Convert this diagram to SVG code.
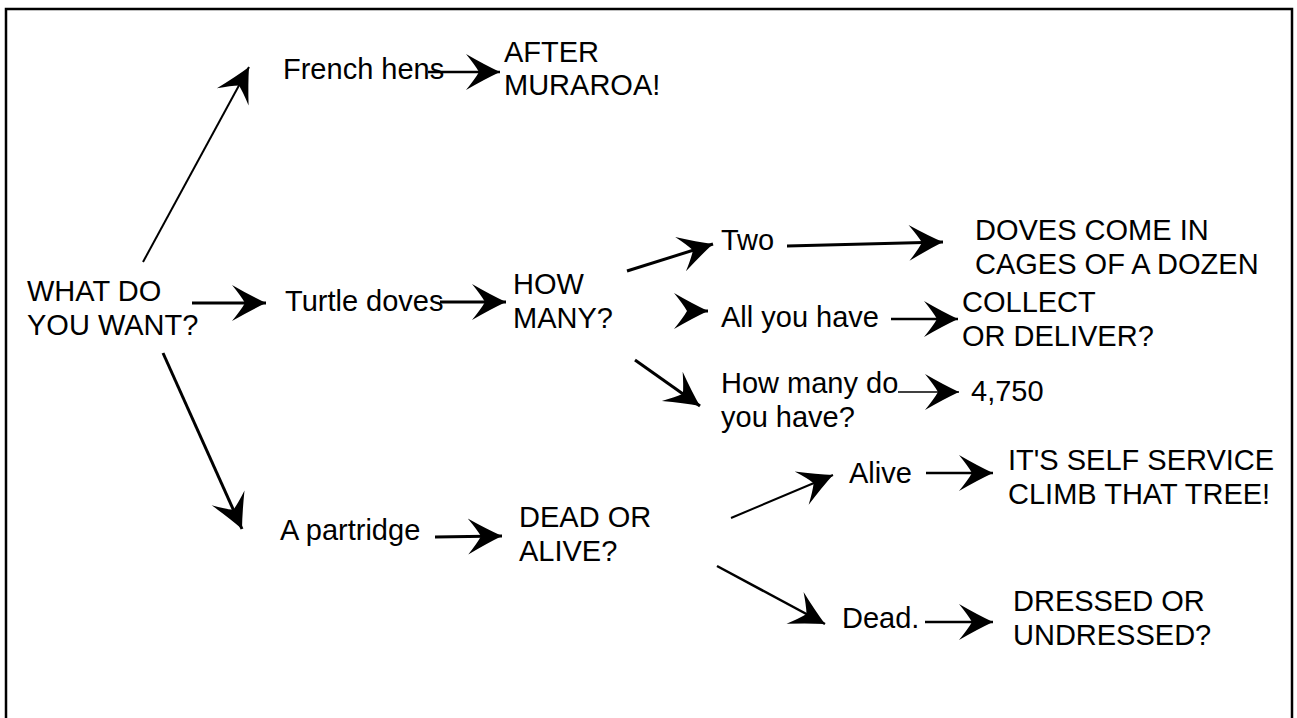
<svg xmlns="http://www.w3.org/2000/svg" width="1297" height="718" viewBox="0 0 1297 718">
<style>
text{font-family:"Liberation Sans",Arial,sans-serif;font-size:29px;fill:#000}
.c{fill:none;stroke:#000;stroke-linecap:butt;marker-end:url(#ah)}
.t3{stroke-width:3}
.t25{stroke-width:2.5}
.t2{stroke-width:2}
.t15{stroke-width:1.5}
</style>
<defs>
<marker id="ah" markerUnits="userSpaceOnUse" viewBox="-36 -20 38 40" markerWidth="38" markerHeight="40" refX="0" refY="0" orient="auto" overflow="visible">
<path d="M0,0 Q-15,-7 -34,-18 Q-25,-7 -21,0 Q-25,7 -34,18 Q-15,7 0,0 Z" fill="#000"/>
</marker>
</defs>
<rect x="6" y="9" width="1286" height="760" fill="#fff" stroke="#000" stroke-width="2.5"/>
<g id="connectors">
<path class="c t2" d="M143,262 L249,67"/>
<path class="c t25" d="M428,72 L500,72"/>
<path class="c t3" d="M192,303 L266,303"/>
<path class="c t3" d="M440,302 L506,302"/>
<path class="c t3" d="M163,353 L242,529"/>
<path class="c t3" d="M435,537 L502,536"/>
<path class="c t3" d="M627,271 L713,244"/>
<path class="c t3" d="M692,311 L708,311"/>
<path class="c t3" d="M635,360 L700,406"/>
<path class="c t3" d="M787,246 L943,242"/>
<path class="c t25" d="M891,319 L958,319"/>
<path class="c t15" d="M898,392 L959,392"/>
<path class="c t2" d="M731,518 L833,475"/>
<path class="c t25" d="M717,566 L825,624"/>
<path class="c t25" d="M926,473 L993,473"/>
<path class="c t25" d="M925,622 L993,622"/>
</g>
<g id="what"><text x="27" y="301">WHAT DO</text><text x="27" y="335">YOU WANT?</text></g>
<g id="french"><text x="283" y="79">French hens</text></g>
<g id="after"><text x="504" y="62">AFTER</text><text x="504" y="95">MURAROA!</text></g>
<g id="turtle"><text x="285" y="311">Turtle doves</text></g>
<g id="howmany"><text x="513" y="294">HOW</text><text x="513" y="328">MANY?</text></g>
<g id="two"><text x="721" y="250">Two</text></g>
<g id="doves"><text x="975" y="240">DOVES COME IN</text><text x="975" y="274">CAGES OF A DOZEN</text></g>
<g id="allyou"><text x="721" y="327">All you have</text></g>
<g id="collect"><text x="962" y="312">COLLECT</text><text x="962" y="346">OR DELIVER?</text></g>
<g id="howmanydo"><text x="721" y="393">How many do</text><text x="721" y="427">you have?</text></g>
<g id="n4750"><text x="971" y="401">4,750</text></g>
<g id="partridge"><text x="280" y="540">A partridge</text></g>
<g id="deadoralive"><text x="519" y="527">DEAD OR</text><text x="519" y="561">ALIVE?</text></g>
<g id="alive"><text x="849" y="483">Alive</text></g>
<g id="selfservice"><text x="1008" y="470">IT'S SELF SERVICE</text><text x="1008" y="504">CLIMB THAT TREE!</text></g>
<g id="dead"><text x="842" y="628">Dead.</text></g>
<g id="dressed"><text x="1013" y="611">DRESSED OR</text><text x="1013" y="645">UNDRESSED?</text></g>
</svg>
